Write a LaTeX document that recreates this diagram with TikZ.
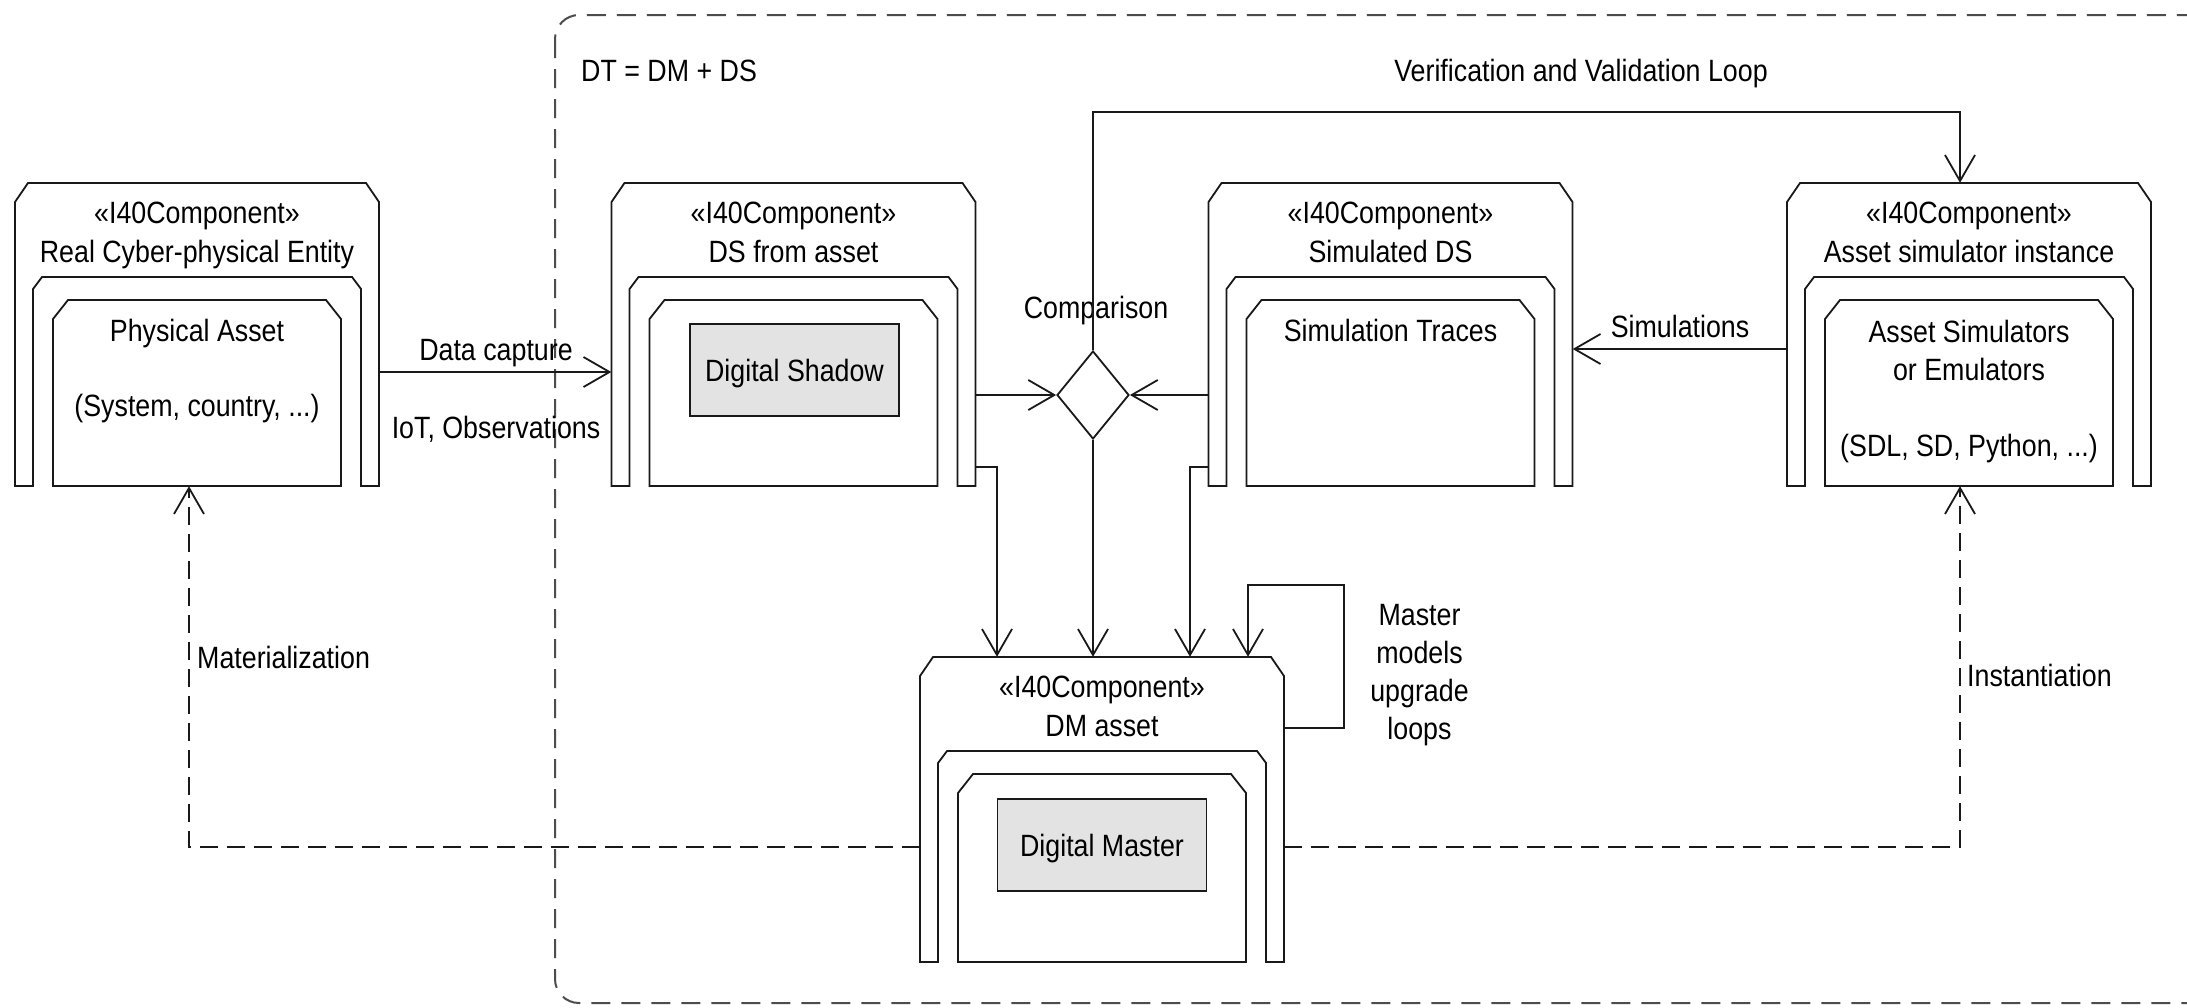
\documentclass[tikz,border=0pt]{standalone}
\usepackage{fontspec}
\setmainfont{Liberation Sans}[FakeStretch=0.87]
\usetikzlibrary{arrows.meta,shapes.geometric,calc}
\newcommand\compbox[4]{% name, cx, top, height
 \begin{scope}[shift={(#2,#3)}]
  \draw[ln] (-182,#4) -- (-182,19) -- (-169,0) -- (169,0) -- (182,19) -- (182,#4) -- (164,#4) -- (164,106) -- (155,94) -- (-155,94) -- (-164,106) -- (-164,#4) -- cycle;
  \draw[ln] (-144,#4) -- (-144,136) -- (-129,117) -- (129,117) -- (144,136) -- (144,#4) -- cycle;
  \node[box, minimum height=#4] (#1) at (0,#4/2) {};
  \node[txt] (#1st) at (0,40.5) {«I40Component»};
 \end{scope}}
\begin{document}
\begin{tikzpicture}[x=1pt,y=-1pt,
  ln/.style={draw=black!90, line width=1.8pt, line join=miter},
  arr/.style={ln, -{Straight Barb[length=26pt,width=30pt]}},
  dep/.style={arr, dash pattern=on 18pt off 9pt},
  bnd/.style={draw=black!70, line width=2pt, dash pattern=on 19pt off 11pt},
  txt/.style={anchor=base, inner sep=0pt, font=\fontsize{30.8}{38}\selectfont},
  mtxt/.style={anchor=north, inner sep=0pt, align=center, font=\fontsize{30.8}{38}\selectfont},
  box/.style={inner sep=0pt, minimum width=364pt, minimum height=303pt, draw=none},
  graybox/.style={ln, fill=gray!22, minimum width=209pt, minimum height=92pt, inner sep=0pt, text height=22pt, text depth=0pt, font=\fontsize{30.8}{38}\selectfont}
]
\fill[white] (0,0) rectangle (2187,1007);
\useasboundingbox (0,0) rectangle (2187,1007);
% DT boundary
\begin{scope}
 \clip (0,0) rectangle (2187,1007);
 \draw[bnd, rounded corners=24pt] (555,15) rectangle (2215,1003);
\end{scope}
\node[txt, anchor=base west] (dt) at (581,81) {DT = DM + DS};

% components
\compbox{b1}{197}{183}{303}
\compbox{b2}{793.5}{183}{303}
\compbox{b3}{1390.5}{183}{303}
\compbox{b4}{1969}{183}{303}
\compbox{b5}{1102}{657}{305}

\node[txt] (b1n) at (197,262) {Real Cyber-physical Entity};
\node[txt] (b1a) at (197,341.5) {Physical Asset};
\node[txt] (b1b) at (197,416.5) {(System, country, ...)};

\node[txt] (b2n) at (793.5,262) {DS from asset};
\node[graybox] (ds) at (794.5,370) {Digital Shadow};

\node[txt] (b3n) at (1390.5,262) {Simulated DS};
\node[txt] (b3a) at (1390.5,341.5) {Simulation Traces};

\node[txt] (b4n) at (1969,262) {Asset simulator instance};
\node[mtxt] (b4a) at (1969,319.5) {Asset Simulators\\or Emulators};
\node[txt] (b4b) at (1969,456) {(SDL, SD, Python, ...)};

\node[txt] (b5n) at (1102,736) {DM asset};
\node[graybox] (dm) at (1102,845) {Digital Master};

% comparison
\node[diamond, ln, minimum width=72pt, minimum height=88pt, inner sep=0pt] (cmp) at (1093,395) {};
\node[txt] (cmpl) at (1096,318) {Comparison};

% coordinates
\coordinate (yDC) at (0,372);
\coordinate (ySim) at (0,349);
\coordinate (vv) at (1960,112);
\coordinate (yK) at (0,467);
\coordinate (xL) at (997,0);
\coordinate (xR) at (1190,0);
\coordinate (ySL) at (0,728);
\coordinate (sl) at (1344,585);
\coordinate (slx) at (1248,0);
\coordinate (mat) at (189,847);
\coordinate (ins) at (1960,847);

% connectors
\draw[arr] (b1.east |- yDC) -- (b2.west |- yDC);
\node[txt] (dcl) at (496,360) {Data capture};
\node[txt] (iol) at (496,438) {IoT, Observations};

\draw[arr] (b2.east |- cmp) -- (cmp.west);
\draw[arr] (b3.west |- cmp) -- (cmp.east);

\draw[arr] (b4.west |- ySim) -- (b3.east |- ySim);
\node[txt] (siml) at (1680,337) {Simulations};

\draw[arr] (cmp.north) |- (vv) -- (vv |- b4.north);
\node[txt] (vvl) at (1581,81) {Verification and Validation Loop};

\draw[arr] (cmp.south) -- (cmp.south |- b5.north);
\draw[arr] (b2.east |- yK) -| (xL |- b5.north);
\draw[arr] (b3.west |- yK) -| (xR |- b5.north);

\draw[arr] (b5.east |- ySL) -| (sl) -| (slx |- b5.north);
\node[mtxt] (mml) at (1419.5,604) {Master\\models\\upgrade\\loops};

\draw[dep] (b5.west |- mat) -| (mat |- b1.south);
\node[txt, anchor=base west] (matl) at (197,668) {Materialization};

\draw[dep] (b5.east |- ins) -| (ins |- b4.south);
\node[txt, anchor=base west] (insl) at (1967,686) {Instantiation};
\end{tikzpicture}
\end{document}
